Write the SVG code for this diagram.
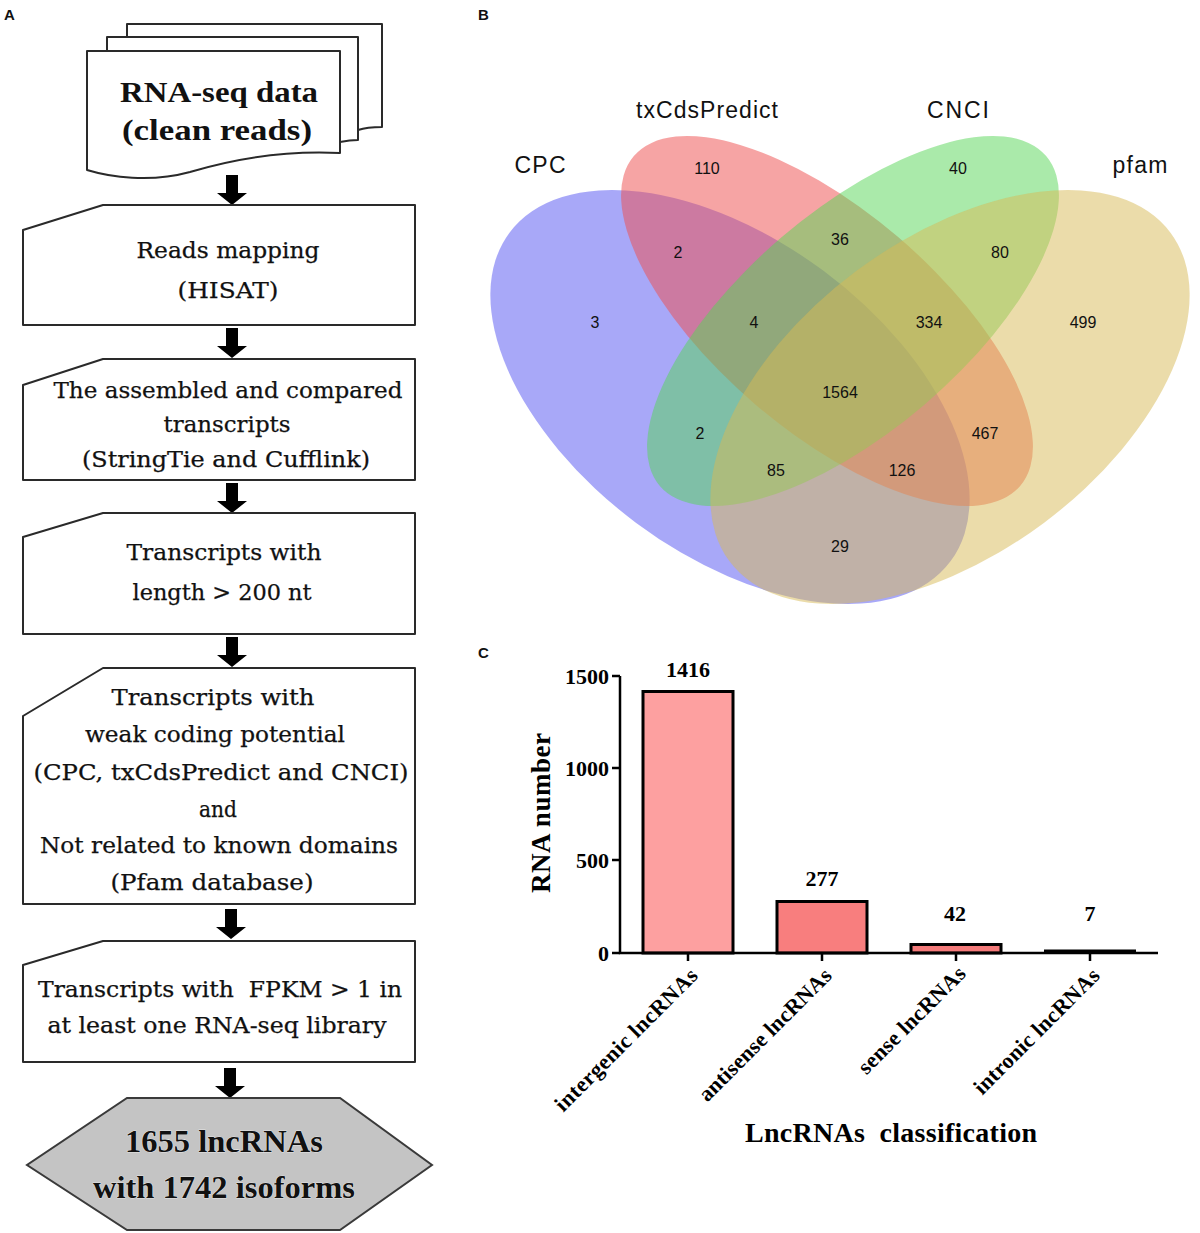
<svg xmlns="http://www.w3.org/2000/svg" xmlns:xlink="http://www.w3.org/1999/xlink" width="1200" height="1233" viewBox="0 0 1200 1233">
<style>
.bg{fill:#ffffff}
.box{fill:#ffffff;stroke:#2a2a2a;stroke-width:2;stroke-linejoin:round}
.ft{font-family:"DejaVu Serif","Liberation Serif",serif;font-size:22px;fill:#111;stroke:#111;stroke-width:0.25;text-anchor:middle}
.fb{font-family:"Liberation Serif","Times New Roman",serif;font-weight:bold;fill:#111;text-anchor:middle}
.pl{font-family:"Liberation Sans",Arial,sans-serif;font-weight:bold;font-size:15px;fill:#111}
.vl{font-family:"Liberation Sans",Arial,sans-serif;font-size:23px;fill:#111;text-anchor:middle}
.vn{font-family:"Liberation Sans",Arial,sans-serif;font-size:16px;fill:#111;text-anchor:middle}
.ax{stroke:#000;stroke-width:2.5;fill:none}
.bar{stroke:#000;stroke-width:3}
.cb{font-family:"Liberation Serif","Times New Roman",serif;font-weight:bold;fill:#000}
</style>
<defs>
<path id="arr" d="M-6,0 H6 V18 H15 L0,30 L-15,18 H-6 Z" fill="#000"/>
</defs>
<rect class="bg" x="0" y="0" width="1200" height="1233"/>

<text class="pl" x="4" y="20">A</text>
<text class="pl" x="478" y="20">B</text>
<text class="pl" x="478" y="658">C</text>

<!-- Connectors -->
<g id="connectors">
<use xlink:href="#arr" x="232" y="175"/>
<use xlink:href="#arr" x="232" y="328"/>
<use xlink:href="#arr" x="232" y="483"/>
<use xlink:href="#arr" x="232" y="637"/>
<use xlink:href="#arr" x="231" y="909"/>
<use xlink:href="#arr" x="230" y="1068"/>
</g>

<!-- Panel A nodes -->
<g id="node-rnaseq">
<path class="box" d="M127,24 H382 V127 C372,127 364,128 358,130 L358,40 L127,40 Z"/>
<path class="box" d="M107,37 H358 V140 C350,140 345,141 340,142 L340,52 L107,52 Z"/>
<path class="box" d="M87,51 H340 V153 C280,150 230,160 190,172 C150,183 110,177 87,170 Z"/>
<text class="fb" x="219" y="102" font-size="30" textLength="198" lengthAdjust="spacingAndGlyphs">RNA-seq data</text>
<text class="fb" x="217" y="140" font-size="30" textLength="190" lengthAdjust="spacingAndGlyphs">(clean reads)</text>
</g>

<g id="node-mapping">
<path class="box" d="M23,230 L103,205 H415 V325 H23 Z"/>
<text class="ft" x="228" y="258" textLength="183" lengthAdjust="spacingAndGlyphs">Reads mapping</text>
<text class="ft" x="228" y="298" textLength="101" lengthAdjust="spacingAndGlyphs">(HISAT)</text>
</g>

<g id="node-assembled">
<path class="box" d="M23,385 L103,359 H415 V480 H23 Z"/>
<text class="ft" x="228" y="398" textLength="349" lengthAdjust="spacingAndGlyphs">The assembled and compared</text>
<text class="ft" x="227" y="432" textLength="127" lengthAdjust="spacingAndGlyphs">transcripts</text>
<text class="ft" x="226" y="467" textLength="288" lengthAdjust="spacingAndGlyphs">(StringTie and Cufflink)</text>
</g>

<g id="node-length">
<path class="box" d="M23,537 L103,513 H415 V634 H23 Z"/>
<text class="ft" x="224" y="560" textLength="195" lengthAdjust="spacingAndGlyphs">Transcripts with</text>
<text class="ft" x="222" y="600" textLength="179" lengthAdjust="spacingAndGlyphs">length &gt; 200 nt</text>
</g>

<g id="node-coding">
<path class="box" d="M23,716 L103,668 H415 V904 H23 Z"/>
<text class="ft" x="213" y="705" textLength="203" lengthAdjust="spacingAndGlyphs">Transcripts with</text>
<text class="ft" x="215" y="742" textLength="260" lengthAdjust="spacingAndGlyphs">weak coding potential</text>
<text class="ft" x="221" y="780" textLength="375" lengthAdjust="spacingAndGlyphs">(CPC, txCdsPredict and CNCI)</text>
<text class="ft" x="218" y="817" stroke-width="0" font-size="21" textLength="38" lengthAdjust="spacingAndGlyphs">and</text>
<text class="ft" x="219" y="853" textLength="358" lengthAdjust="spacingAndGlyphs">Not related to known domains</text>
<text class="ft" x="212" y="890" textLength="203" lengthAdjust="spacingAndGlyphs">(Pfam database)</text>
</g>

<g id="node-fpkm">
<path class="box" d="M23,965 L103,941 H415 V1062 H23 Z"/>
<text class="ft" x="220" y="997" textLength="364" lengthAdjust="spacingAndGlyphs" xml:space="preserve">Transcripts with  FPKM &gt; 1 in</text>
<text class="ft" x="217" y="1033" textLength="339" lengthAdjust="spacingAndGlyphs">at least one RNA-seq library</text>
</g>

<g id="node-result">
<path d="M127,1098 H340 L432,1165 L340,1230 H127 L27,1165 Z" fill="#c4c4c4" stroke="#3a3a3a" stroke-width="2"/>
<text class="fb" x="224" y="1152" font-size="32" textLength="198" lengthAdjust="spacingAndGlyphs" stroke="#fff" stroke-width="0.6" paint-order="stroke">1655 lncRNAs</text>
<text class="fb" x="224" y="1198" font-size="32" textLength="262" lengthAdjust="spacingAndGlyphs" stroke="#fff" stroke-width="0.6" paint-order="stroke">with 1742 isoforms</text>
</g>

<!-- Panel B Venn -->
<g id="venn">
<ellipse cx="730" cy="397" rx="275" ry="157" transform="rotate(36.7 730 397)" fill="#5959f1" fill-opacity="0.52"/>
<ellipse cx="827" cy="321" rx="254" ry="110" transform="rotate(40.5 827 321)" fill="#ed5151" fill-opacity="0.52"/>
<ellipse cx="853" cy="321" rx="254" ry="110" transform="rotate(-40.5 853 321)" fill="#55d555" fill-opacity="0.5"/>
<ellipse cx="950" cy="397" rx="275" ry="157" transform="rotate(-36.7 950 397)" fill="#d8b955" fill-opacity="0.5"/>
<text class="vl" x="540" y="173" textLength="51">CPC</text>
<text class="vl" x="707" y="118" textLength="142">txCdsPredict</text>
<text class="vl" x="958" y="118" textLength="62">CNCI</text>
<text class="vl" x="1140" y="173" textLength="55">pfam</text>
<text class="vn" x="707" y="174">110</text>
<text class="vn" x="958" y="174">40</text>
<text class="vn" x="678" y="258">2</text>
<text class="vn" x="840" y="245">36</text>
<text class="vn" x="1000" y="258">80</text>
<text class="vn" x="595" y="328">3</text>
<text class="vn" x="754" y="328">4</text>
<text class="vn" x="929" y="328">334</text>
<text class="vn" x="1083" y="328">499</text>
<text class="vn" x="840" y="398">1564</text>
<text class="vn" x="700" y="439">2</text>
<text class="vn" x="985" y="439">467</text>
<text class="vn" x="776" y="476">85</text>
<text class="vn" x="902" y="476">126</text>
<text class="vn" x="840" y="552">29</text>
</g>

<!-- Panel C bar chart -->
<g id="barchart">
<rect class="bar" x="643" y="691.5" width="90" height="261.5" fill="#fda0a0"/>
<rect class="bar" x="777" y="901.5" width="90" height="51.5" fill="#f87e7e"/>
<rect class="bar" x="911" y="944.5" width="90" height="8.5" fill="#f47a7a"/>
<rect x="1044" y="949.5" width="92" height="3" fill="#000"/>
<path class="ax" d="M620,676 V953 H1158"/>
<path class="ax" d="M612,676 H620 M612,768 H620 M612,860 H620 M612,953 H620"/>
<path class="ax" d="M688,953 V961 M822,953 V961 M956,953 V961 M1090,953 V961"/>
<g class="cb" font-size="22" text-anchor="end">
<text x="609" y="684">1500</text>
<text x="609" y="776">1000</text>
<text x="609" y="868">500</text>
<text x="609" y="961">0</text>
</g>
<g class="cb" font-size="22" text-anchor="middle">
<text x="688" y="677">1416</text>
<text x="822" y="886">277</text>
<text x="955" y="921">42</text>
<text x="1090" y="921">7</text>
</g>
<g class="cb" font-size="22" text-anchor="end">
<text transform="translate(699 977) rotate(-45)" textLength="192">intergenic lncRNAs</text>
<text transform="translate(833 977) rotate(-45)" textLength="178">antisense lncRNAs</text>
<text transform="translate(967 975) rotate(-45)" textLength="142">sense lncRNAs</text>
<text transform="translate(1101 977) rotate(-45)" textLength="168">intronic lncRNAs</text>
</g>
<text class="cb" font-size="27" text-anchor="middle" transform="translate(550 813) rotate(-90)" textLength="160">RNA number</text>
<text class="cb" font-size="28" x="891" y="1142" text-anchor="middle" textLength="292" xml:space="preserve">LncRNAs  classification</text>
</g>
</svg>
